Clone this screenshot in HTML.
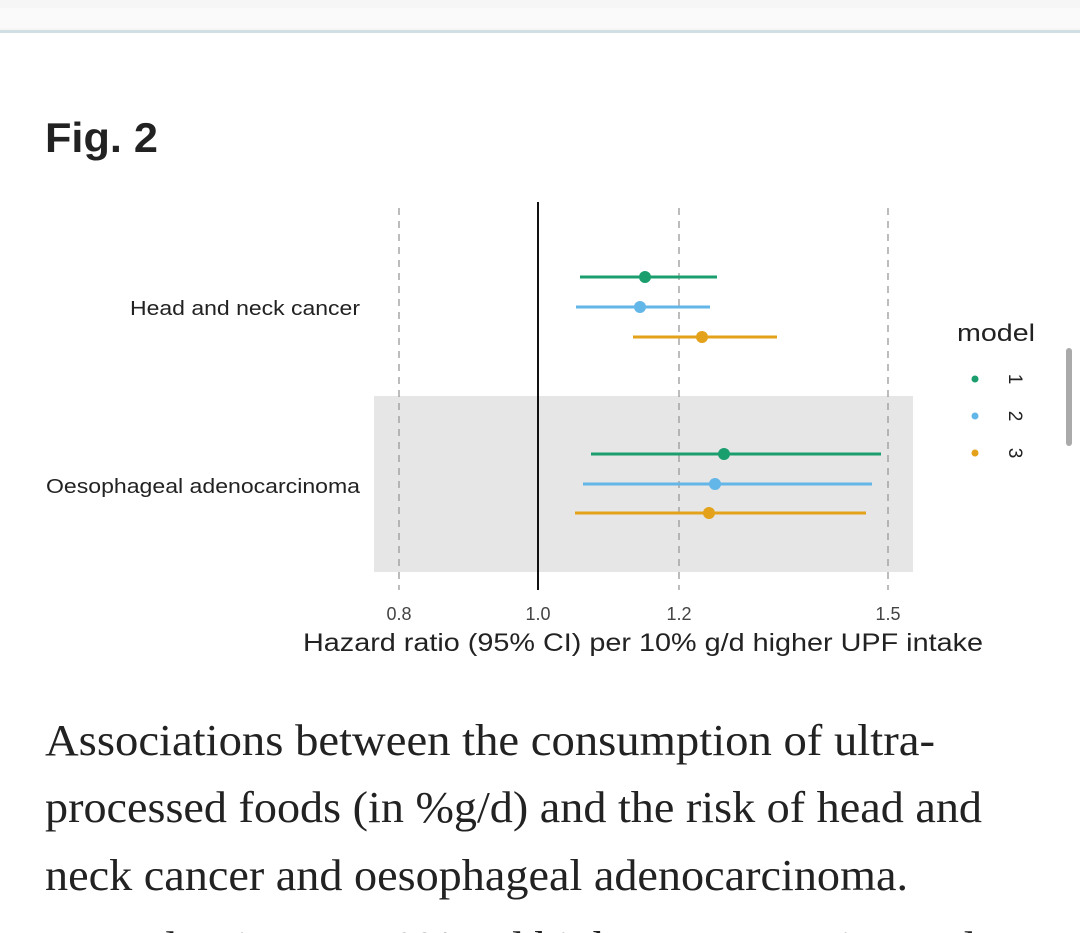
<!DOCTYPE html>
<html><head><meta charset="utf-8"><style>
html,body{margin:0;padding:0;background:#fff;width:1080px;height:933px;overflow:hidden}
</style></head><body>
<svg width="1080" height="933" xmlns="http://www.w3.org/2000/svg" style="display:block">
<rect x="0" y="0" width="1080" height="30" fill="#f6f6f6"/>
<rect x="0" y="8" width="1080" height="20" fill="#fafafa"/>
<rect x="0" y="30" width="1080" height="3" fill="#cfdfe3"/>
<text x="45" y="152" font-family="Liberation Sans, sans-serif" font-weight="bold" font-size="42" fill="#222" textLength="113" lengthAdjust="spacingAndGlyphs">Fig. 2</text>

<rect x="374" y="396" width="539" height="176" fill="#e6e6e6"/>
<g stroke="#999" stroke-width="1.3" stroke-dasharray="7,6">
<line x1="399" y1="208" x2="399" y2="590"/>
<line x1="679" y1="208" x2="679" y2="590"/>
<line x1="888" y1="208" x2="888" y2="590"/>
</g>
<line x1="538" y1="202" x2="538" y2="590" stroke="#111" stroke-width="2"/>

<g stroke-width="3">
<line x1="580" y1="277" x2="717" y2="277" stroke="#1a9e6e"/>
<line x1="576" y1="307" x2="710" y2="307" stroke="#62b6e8"/>
<line x1="633" y1="337" x2="777" y2="337" stroke="#e3a21a"/>
<line x1="591" y1="454" x2="881" y2="454" stroke="#1a9e6e"/>
<line x1="583" y1="484" x2="872" y2="484" stroke="#62b6e8"/>
<line x1="575" y1="513" x2="866" y2="513" stroke="#e3a21a"/>
</g>
<circle cx="645" cy="277" r="6" fill="#1a9e6e"/>
<circle cx="640" cy="307" r="6" fill="#62b6e8"/>
<circle cx="702" cy="337" r="6" fill="#e3a21a"/>
<circle cx="724" cy="454" r="6" fill="#1a9e6e"/>
<circle cx="715" cy="484" r="6" fill="#62b6e8"/>
<circle cx="709" cy="513" r="6" fill="#e3a21a"/>

<g font-family="Liberation Sans, sans-serif" fill="#222">
<text x="130" y="315" font-size="20" textLength="230" lengthAdjust="spacingAndGlyphs">Head and neck cancer</text>
<text x="46" y="493" font-size="20" textLength="314" lengthAdjust="spacingAndGlyphs">Oesophageal adenocarcinoma</text>
<g font-size="18" fill="#444" text-anchor="middle">
<text x="399" y="620">0.8</text><text x="538" y="620">1.0</text><text x="679" y="620">1.2</text><text x="888" y="620">1.5</text>
</g>
<text x="643" y="651" font-size="25" text-anchor="middle" textLength="680" lengthAdjust="spacingAndGlyphs">Hazard ratio (95% CI) per 10% g/d higher UPF intake</text>
<text x="957" y="341" font-size="24" textLength="78" lengthAdjust="spacingAndGlyphs">model</text>
<circle cx="975" cy="379" r="3.5" fill="#1a9e6e"/>
<circle cx="975" cy="416" r="3.5" fill="#62b6e8"/>
<circle cx="975" cy="453" r="3.5" fill="#e3a21a"/>
<text transform="translate(1009,379) rotate(90)" font-size="19" text-anchor="middle">1</text>
<text transform="translate(1009,416) rotate(90)" font-size="19" text-anchor="middle">2</text>
<text transform="translate(1009,453) rotate(90)" font-size="19" text-anchor="middle">3</text>
</g>
<rect x="1066" y="348" width="6" height="98" rx="3" fill="#aaa"/>

<g font-family="Liberation Serif, serif" font-size="44" fill="#222">
<text x="45" y="755" textLength="890" lengthAdjust="spacingAndGlyphs">Associations between the consumption of ultra-</text>
<text x="45" y="822" textLength="937" lengthAdjust="spacingAndGlyphs">processed foods (in %g/d) and the risk of head and</text>
<text x="45" y="890" textLength="863" lengthAdjust="spacingAndGlyphs">neck cancer and oesophageal adenocarcinoma.</text>
<text x="45" y="962" textLength="930" lengthAdjust="spacingAndGlyphs">Hazard ratios per 10% g/d higher consumption and</text>
</g>
</svg>
</body></html>
